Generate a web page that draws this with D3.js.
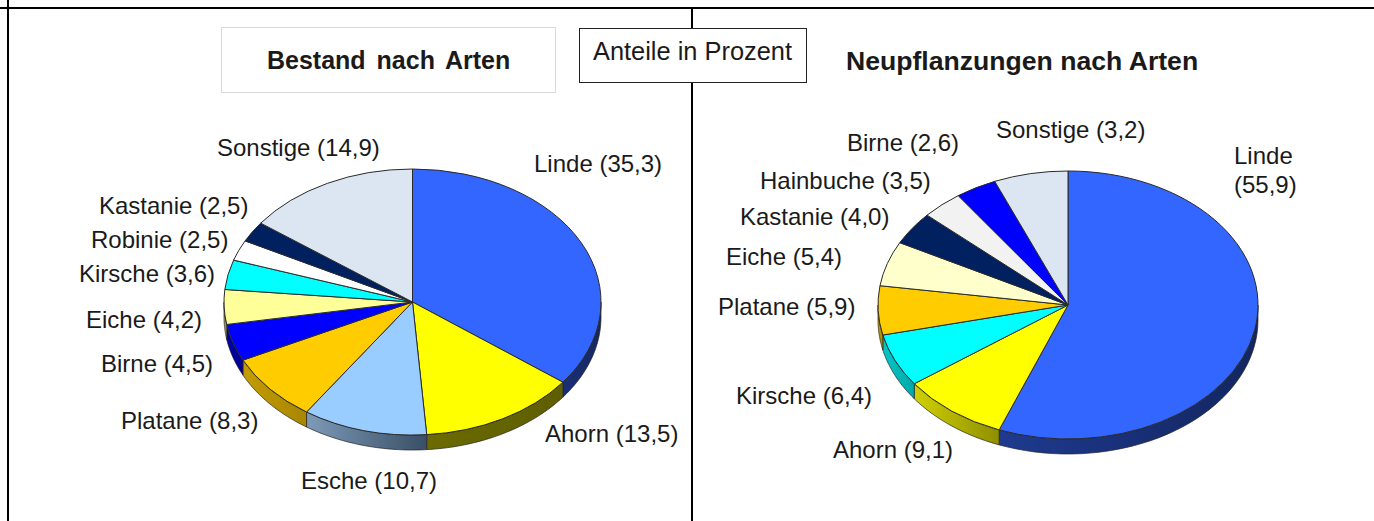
<!DOCTYPE html>
<html><head><meta charset="utf-8">
<script src="https://cdn.jsdelivr.net/npm/d3@7/dist/d3.min.js"></script>
<style>html,body{margin:0;padding:0;background:#fff;overflow:hidden}svg{display:block}text{font-family:"Liberation Sans",Arial,sans-serif;fill:#1a1a1a}</style>
</head><body><svg id="c" width="1374" height="521"></svg>
<script>
// --- data: left pie ---
const bestandNames = ["Linde","Ahorn","Esche","Platane","Birne","Eiche","Kirsche","Robinie","Kastanie","Sonstige"];
const bestandValues = [35.3,13.5,10.7,8.3,4.5,4.2,3.6,2.5,2.5,14.9];
const bestandColors = ["#3366ff","#ffff00","#99ccff","#ffcc00","#0000ff","#ffff99","#00ffff","#ffffff","#002060","#dce6f2"];
// --- data: right pie ---
const neuNames = ["Linde","Ahorn","Kirsche","Platane","Eiche","Kastanie","Hainbuche","Birne","Sonstige"];
const neuValues = [55.9,9.1,6.4,5.9,5.4,4.0,3.5,2.6,3.2];
// Birne and Sonstige slices are drawn larger in the reference than their printed values
const neuDrawnValues = [55.9,9.1,6.4,5.9,5.4,4.0,3.5,3.5,6.3];
const neuColors = ["#3366ff","#ffff00","#00ffff","#ffcc00","#ffffcc","#002060","#f2f2f2","#0000ff","#dce6f2"];
// wall shades [left end, right end]
const bestandWalls = [["#1a2f78","#14285f"],["#6b6b00","#5e5e00"],["#7d9ab8","#3a4f66"],["#c49c00","#a88600"],["#0000a8","#000090"],["#999966","#999966"],["#00aaaa","#00aaaa"],["#aaaaaa","#aaaaaa"],["#001030","#001030"],["#8899aa","#8899aa"]];
const neuWalls = [["#1f3a8f","#122660"],["#d0d000","#8f8f00"],["#00c8c8","#00a8a8"],["#c49c00","#a88600"],["#999977","#999977"],["#001030","#001030"],["#999999","#999999"],["#0000a0","#0000a0"],["#8899aa","#8899aa"]];

const fmt = v => v.toFixed(1).replace(".", ",");
const bestandLabelPos = [[534,172],[545,442],[301,489],[121,429],[101,372],[86,328],[79,282],[91,248],[99,214],[217,156]];
const neuLabelPos = [[1234,193],[833,458],[736,404],[718,315],[726,265],[740,225],[760,189],[847,151],[996,138]];

const svg = d3.select("#c");
const defs = svg.append("defs");

function drawPie(id, values, colors, walls, geom) {
  const {cx, cy, rx, ry, depth} = geom;
  const arcs = d3.pie().sort(null).value(d => d)(values);
  const g = svg.append("g").attr("transform", `translate(${cx},${cy})`);
  const px = a => rx * Math.sin(a), py = a => -ry * Math.cos(a);
  const front = [Math.PI/2, 3*Math.PI/2];
  const line = d3.line().x(d => d[0]).y(d => d[1]);
  arcs.forEach((a, i) => {
    const s = Math.max(a.startAngle, front[0]), e = Math.min(a.endAngle, front[1]);
    if (e <= s) return;
    const t = d3.scaleLinear().domain([0,1]).range([s, e]);
    const samples = d3.range(0, 1.0001, 1/40).map(t);
    const pts = samples.map(x => [px(x), py(x)]).concat(samples.slice().reverse().map(x => [px(x), py(x) + depth]));
    const gid = `${id}-w${i}`;
    const grad = defs.append("linearGradient").attr("id", gid).attr("gradientUnits","userSpaceOnUse")
      .attr("x1", Math.min(px(s),px(e))).attr("x2", Math.max(px(s),px(e))).attr("y1",0).attr("y2",0);
    grad.append("stop").attr("offset",0).attr("stop-color", walls[i][0]);
    grad.append("stop").attr("offset",1).attr("stop-color", walls[i][1]);
    g.append("path").attr("d", line(pts) + "Z")
      .attr("fill", `url(#${gid})`)
      .attr("stroke", "#222").attr("stroke-width", 0.7);
  });
  const top = g.append("g").attr("transform", `scale(1,${ry/rx})`);
  const arc = d3.arc().innerRadius(0).outerRadius(rx);
  top.selectAll("path").data(arcs).join("path")
    .attr("d", arc)
    .attr("fill", (d,i) => colors[i])
    .attr("stroke", "#2a2a2a").attr("stroke-width", 1)
    .attr("vector-effect", "non-scaling-stroke");
}

// frame
const frame = svg.append("g").attr("stroke", "#000").attr("stroke-width", 2);
frame.append("line").attr("x1",0).attr("x2",1374).attr("y1",8).attr("y2",8);
frame.append("line").attr("x1",8).attr("x2",8).attr("y1",0).attr("y2",521);
frame.append("line").attr("x1",692).attr("x2",692).attr("y1",8).attr("y2",521);

drawPie("left", bestandValues, bestandColors, bestandWalls, {cx:412.5, cy:302, rx:188.5, ry:133, depth:15});
drawPie("right", neuDrawnValues, neuColors, neuWalls, {cx:1068, cy:305, rx:190, ry:134, depth:15});

const labelSize = 24;
const label = (x, y, s) => svg.append("text").attr("x", x).attr("y", y).attr("font-size", labelSize).text(s);
bestandNames.forEach((n, i) => label(bestandLabelPos[i][0], bestandLabelPos[i][1], `${n} (${fmt(bestandValues[i])})`));
neuNames.forEach((n, i) => {
  if (i === 0) {
    label(neuLabelPos[0][0], neuLabelPos[0][1] - 29, n);
    label(neuLabelPos[0][0], neuLabelPos[0][1], `(${fmt(neuValues[i])})`);
  } else label(neuLabelPos[i][0], neuLabelPos[i][1], `${n} (${fmt(neuValues[i])})`);
});

// title boxes
svg.append("rect").attr("x",221.5).attr("y",27.5).attr("width",334).attr("height",65).attr("fill","#fff").attr("stroke","#d9d9d9");
svg.append("text").attr("x",267).attr("y",69).attr("font-size",25).attr("font-weight","bold").attr("word-spacing",4).attr("fill","#000").text("Bestand nach Arten");
svg.append("rect").attr("x",579.5).attr("y",28.5).attr("width",227).attr("height",54).attr("fill","#fff").attr("stroke","#222");
svg.append("text").attr("x",593).attr("y",60).attr("font-size",25.4).text("Anteile in Prozent");
svg.append("text").attr("x",846).attr("y",70).attr("font-size",26.6).attr("font-weight","bold").attr("fill","#000").text("Neupflanzungen nach Arten");
</script></body></html>
